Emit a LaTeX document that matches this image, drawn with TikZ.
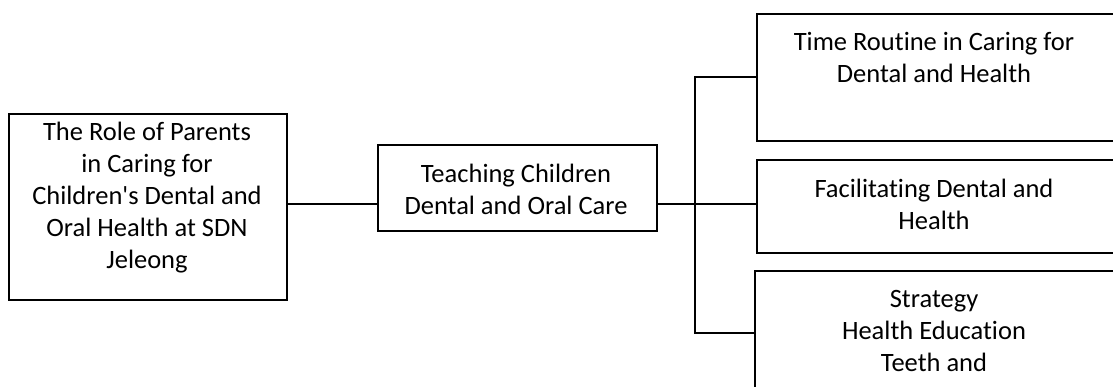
\documentclass[tikz,border=0pt]{standalone}
\usepackage{fontspec}
\setmainfont{Carlito}[Ligatures={NoCommon}]
\begin{document}
\begin{tikzpicture}[x=1pt,y=-1pt,
  box/.style={draw,line width=1.5pt,inner sep=0pt,anchor=north west},
  txt/.style={align=center,font=\fontsize{26.5}{32}\selectfont,inner sep=0pt},
  conn/.style={line width=1.5pt}]
\useasboundingbox (0,0) rectangle (1113,386);
\clip (0,0) rectangle (1113,386);
\node[box,minimum width=278pt,minimum height=186pt] (A) at (8,113) {};
\node[box,minimum width=279pt,minimum height=86pt] (B) at (377,144) {};
\node[box,minimum width=400pt,minimum height=127pt] (C) at (756,13) {};
\node[box,minimum width=400pt,minimum height=93pt] (D) at (756,159) {};
\node[box,minimum width=400pt,minimum height=200pt] (E) at (754,270) {};
\node[txt] (tA) at (147,198) {The Role of Parents\\in Caring for\\Children\textquotesingle s Dental and\\Oral Health at SDN\\Jeleong};
\node[txt] (tB) at (516,189) {Teaching Children\\Dental and Oral Care};
\node[txt] (tC) at (934,57) {Time Routine in Caring for\\Dental and Health};
\node[txt] (tD) at (934,204) {Facilitating Dental and\\Health};
\node[txt] (tE) at (934,331) {Strategy\\Health Education\\Teeth and};
\coordinate (j) at (695,204);
\coordinate (t) at (695,77);
\coordinate (b) at (695,333);
\draw[conn] (A.east |- j) -- (B.west |- j);
\draw[conn] (B.east |- j) -- (j) -- (D.west |- j);
\draw[conn] (C.west |- t) -- (t) -- (b) -- (E.west |- b);
\end{tikzpicture}
\end{document}
